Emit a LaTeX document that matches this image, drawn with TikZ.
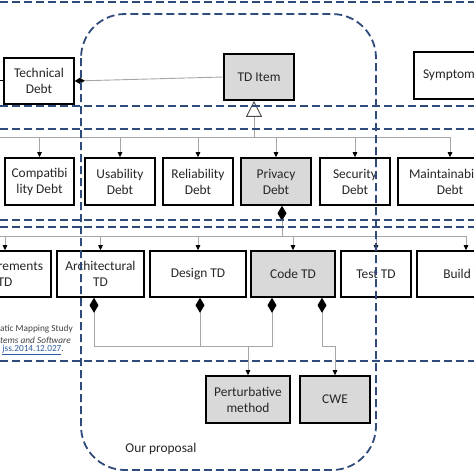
\documentclass[tikz,border=0pt]{standalone}
\usepackage{fontspec}
\setmainfont{Carlito}
\usetikzlibrary{arrows.meta}
\definecolor{dashblue}{HTML}{2F4B7C}
\definecolor{boxgray}{HTML}{D9D9D9}
\definecolor{linegray}{HTML}{A6A6A6}
\definecolor{linkblue}{HTML}{2E5C9E}
\begin{document}
\begin{tikzpicture}[x=1pt,y=-1pt,
  box/.style={draw=black, line width=1.6pt, fill=white, minimum height=46pt, inner sep=0pt, align=center, font=\fontsize{13.4}{16}\selectfont, text=black!85},
  graybox/.style={box, fill=boxgray},
  conn/.style={draw=linegray, line width=0.9pt},
  arr/.style={conn, -{Triangle[length=5pt,width=4.5pt,color=black,fill=black]}},
  diasmall/.style={conn, {Diamond[length=10pt,width=6pt,color=black,fill=black]}-},
  diabig/.style={conn, {Diamond[length=15pt,width=9pt,color=black,fill=black]}-},
  diaarr/.style={conn, {Diamond[length=15pt,width=9pt,color=black,fill=black]}-{Triangle[length=5pt,width=4.5pt,color=black,fill=black]}},
  gen/.style={conn, {Triangle[open,length=16pt,width=16pt,line width=0.9pt,color=black!70,fill=white]}-},
  dashln/.style={draw=dashblue, line width=1.8pt, dash pattern=on 8pt off 4pt},
  cite/.style={inner sep=0pt, font=\fontsize{9.3}{11}\selectfont, text=black!75},
  plain/.style={inner sep=0pt, font=\fontsize{13.4}{16}\selectfont, text=black!85}]
\useasboundingbox (0,0) rectangle (474,474);
\clip (0,0) rectangle (474,474);

% row 1
\node[box, minimum width=70pt] (td) at (39,81) {Technical\\Debt};
\node[graybox, minimum width=70pt] (tdi) at (259,77) {TD Item};
\node[box, minimum width=90pt, minimum height=47pt, text width=72pt, align=left] (sym) at (459,75.5) {Symptom};

% row 2
\node[box, minimum width=69pt, minimum height=47pt] (comp) at (39.5,181.5) {Compatibi\\lity Debt};
\node[box, minimum width=70pt, minimum height=47pt] (usab) at (120,181.5) {Usability\\Debt};
\node[box, minimum width=70pt, minimum height=47pt] (rel) at (198,181.5) {Reliability\\Debt};
\node[graybox, minimum width=70pt, minimum height=47pt] (priv) at (276,181.5) {Privacy\\Debt};
\node[box, minimum width=70pt, minimum height=47pt] (sec) at (355,181.5) {Security\\Debt};
\node[box, minimum width=104pt, minimum height=47pt] (maint) at (450,181.5) {Maintainability\\Debt};

% row 3
\node[box, minimum width=92pt] (req) at (5,274) {Requirements\\TD};
\node[box, minimum width=87pt] (arch) at (100.5,274) {Architectural\\TD};
\node[box, minimum width=96pt] (des) at (198,274) {Design TD};
\node[graybox, minimum width=84pt] (code) at (293,274) {Code TD};
\node[box, minimum width=70pt] (test) at (376,274) {Test TD};
\node[box, minimum width=98pt] (build) at (466,274) {Build TD};

% row 4
\node[graybox, minimum width=84pt, minimum height=47pt] (pert) at (248,399.5) {Perturbative\\method};
\node[graybox, minimum width=70pt, minimum height=47pt] (cwe) at (335,399.5) {CWE};

\node[plain] (op) at (161,449) {Our proposal};
\node[cite, anchor=east] (c1) at (73,329) {atic Mapping Study};
\node[cite, anchor=east] (c2) at (71,340) {\itshape tems and Software};
\node[cite, anchor=east] (c3) at (64,350) {\textcolor{linkblue}{\underline{jss.2014.12.027}}.};

% connectors
\coordinate (lft) at (0,80);
\draw[conn, draw=black] (lft) -- (td.west |- lft);
\draw[diasmall] (td.east) -- (tdi.west);

\coordinate (bus1) at (0,137);
\coordinate (bus1r) at (450,137);
\draw[gen] ([xshift=-5pt]tdi.south) -- ([xshift=-5pt]tdi.south |- bus1);
\draw[conn] (bus1) -- (bus1r);
\foreach \n in {comp,usab,rel,priv,sec,maint}{
  \draw[arr] (\n.north |- bus1) -- (\n.north);
}

\coordinate (bus2) at (0,236);
\coordinate (bus2r) at (466,236);
\draw[diabig] ([xshift=6pt]priv.south) -- ([xshift=6pt]priv.south |- bus2);
\draw[conn] (bus2) -- (bus2r);
\foreach \n in {req,arch,des,code,test,build}{
  \draw[arr] (\n.north |- bus2) -- (\n.north);
}

\coordinate (j1) at (248,346);
\draw[diabig] ([xshift=-6.5pt]arch.south) -- ([xshift=-6.5pt]arch.south |- j1) -- (j1);
\draw[diabig] ([xshift=2pt]des.south) -- ([xshift=2pt]des.south |- j1);
\draw[diabig] ([xshift=-21pt]code.south) -- ([xshift=-21pt]code.south |- j1) -- (j1);
\draw[arr] (pert.north |- j1) -- (pert.north);
\draw[diaarr] ([xshift=29pt]code.south) -- ([xshift=29pt]code.south |- j1) -| (cwe.north);

% dashed frames
\draw[dashln] (0,2) -- (474,2);
\draw[dashln] (0,106) -- (474,106);
\draw[dashln] (0,129) -- (474,129);
\draw[dashln] (0,220) -- (474,220);
\draw[dashln] (0,227) -- (474,227);
\draw[dashln] (0,361) -- (474,361);
\draw[dashln, rounded corners=44pt] (81,14) rectangle (376,470);
\end{tikzpicture}
\end{document}
